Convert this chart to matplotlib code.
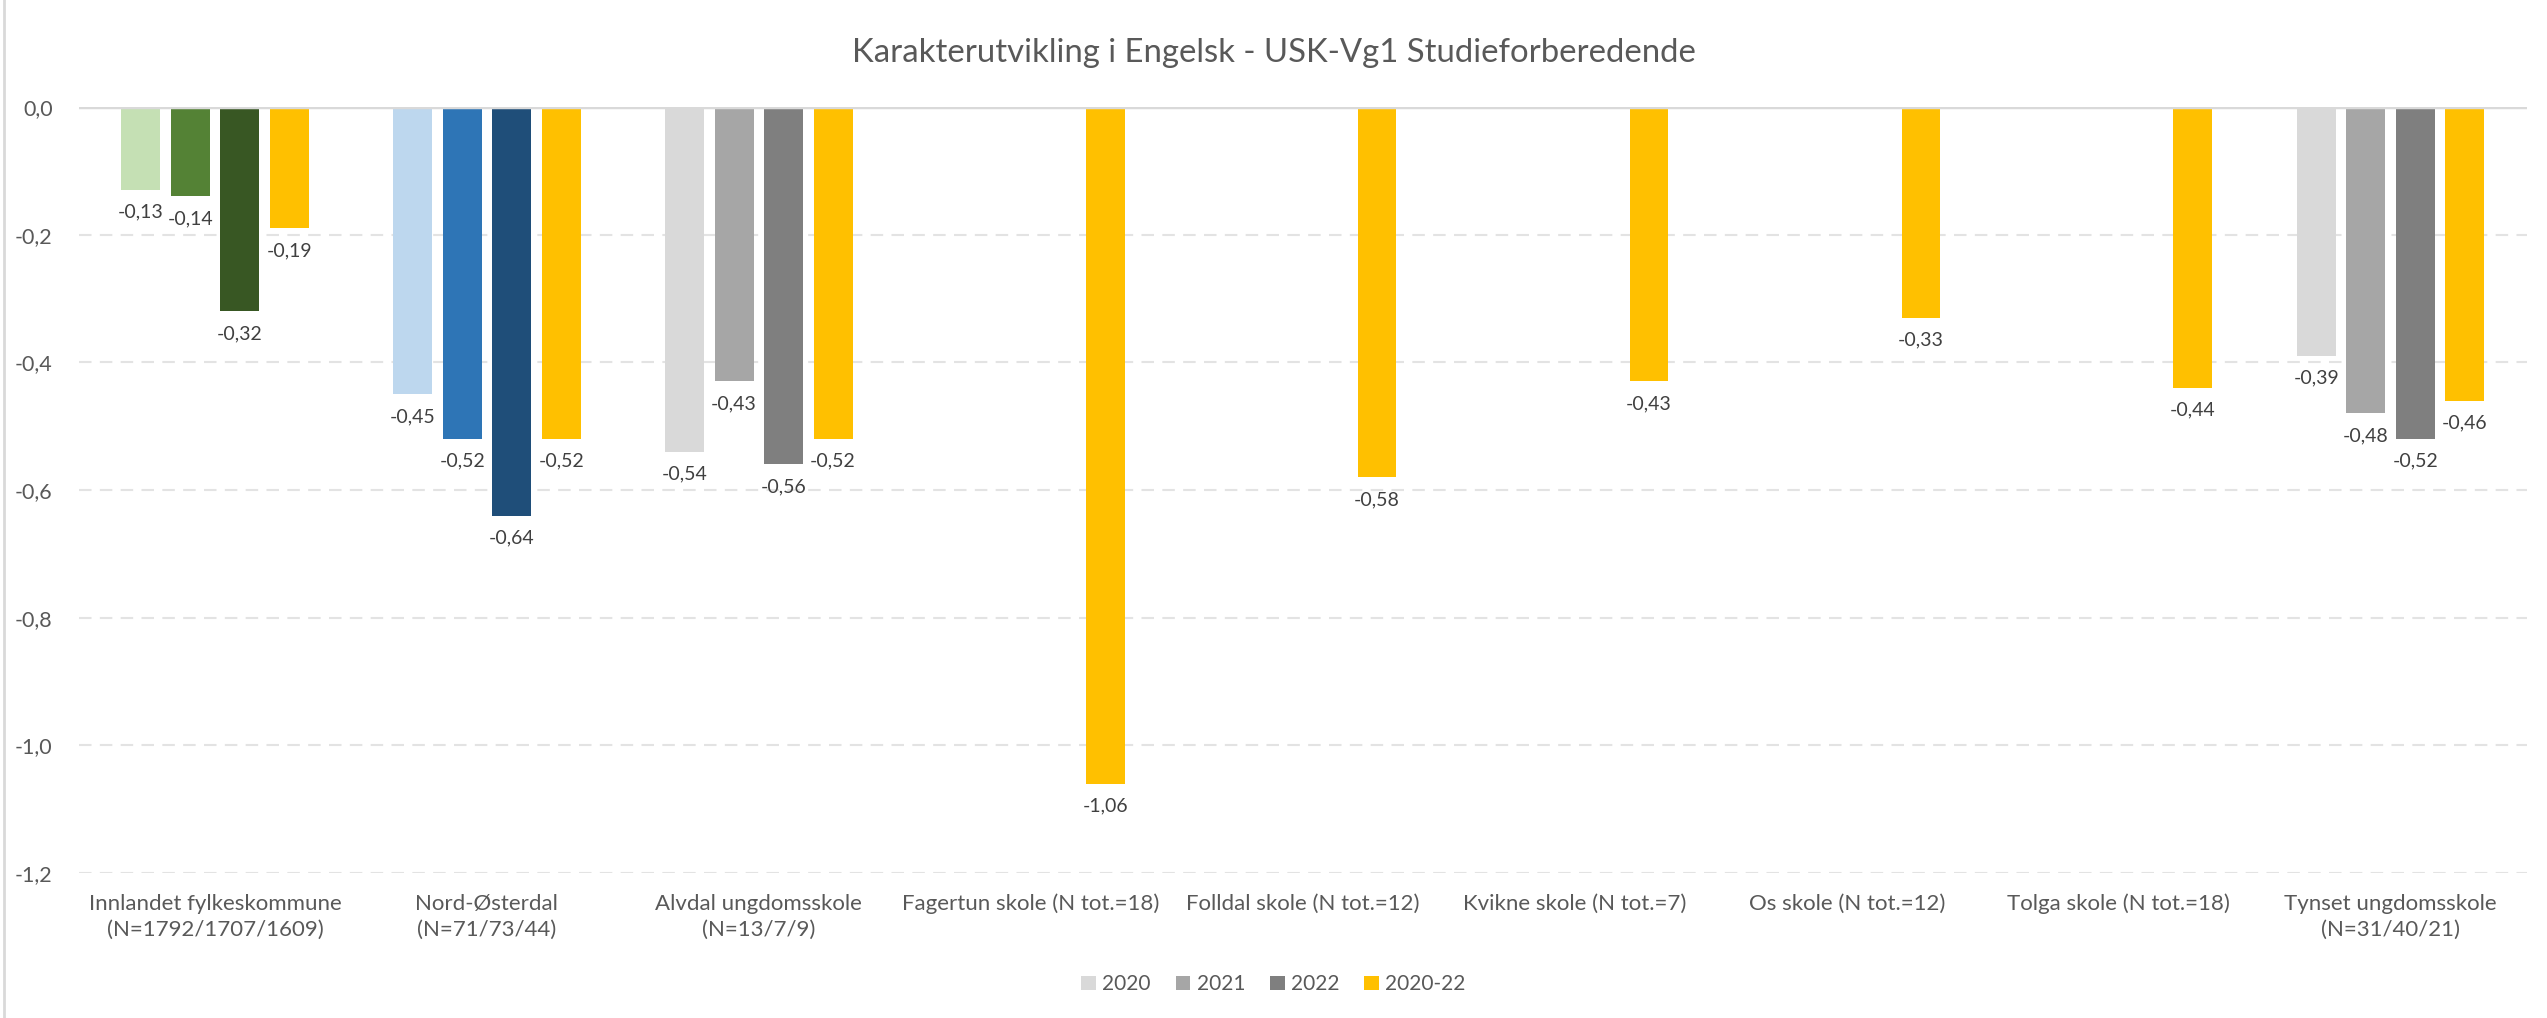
import numpy as np
import matplotlib
matplotlib.use('agg')
import matplotlib.pyplot as plt
from matplotlib.patches import Patch
from matplotlib.ticker import FuncFormatter

plt.rcParams['font.family'] = ['Lato', 'DejaVu Sans']

# data
categories = ['Innlandet fylkeskommune\n(N=1792/1707/1609)',
              'Nord-Østerdal\n(N=71/73/44)',
              'Alvdal ungdomsskole\n(N=13/7/9)',
              'Fagertun skole (N tot.=18)',
              'Folldal skole (N tot.=12)',
              'Kvikne skole (N tot.=7)',
              'Os skole (N tot.=12)',
              'Tolga skole (N tot.=18)',
              'Tynset ungdomsskole\n(N=31/40/21)']
series = ['2020', '2021', '2022', '2020-22']
nan = np.nan
v2020 = [-0.13, -0.45, -0.54, nan, nan, nan, nan, nan, -0.39]
v2021 = [-0.14, -0.52, -0.43, nan, nan, nan, nan, nan, -0.48]
v2022 = [-0.32, -0.64, -0.56, nan, nan, nan, nan, nan, -0.52]
v2020_22 = [-0.19, -0.52, -0.52, -1.06, -0.58, -0.43, -0.33, -0.44, -0.46]

grey = ['#d9d9d9', '#a6a6a6', '#7f7f7f', '#ffc000']
green = ['#c5e0b4', '#548235', '#385723', '#ffc000']
blue = ['#bdd7ee', '#2e75b6', '#1f4e79', '#ffc000']
group_colors = [green, blue] + [grey] * 7

txt = '#595959'
fig = plt.figure(figsize=(25.47, 10.18), dpi=100)
ax = fig.add_axes([0.031, 0.1424, 0.961, 0.7525])

x = np.arange(len(categories))
pitch = 0.182
width = 0.143
allvals = [v2020, v2021, v2022, v2020_22]
for i, vals in enumerate(allvals):
    xs = x + (i - 1.5) * pitch
    cols = [group_colors[g][i] for g in range(len(categories))]
    bars = ax.bar(xs, vals, width, color=cols, zorder=3)
    for b, v in zip(bars, vals):
        if np.isnan(v):
            continue
        ax.annotate(f'{v:.2f}'.replace('.', ','),
                    (b.get_x() + b.get_width() / 2, v),
                    xytext=(0, -10), textcoords='offset points',
                    ha='center', va='top', fontsize=14, color='#404040')

ax.set_xlim(-0.5, len(categories) - 0.5)
ax.set_ylim(-1.2, 0)
ax.set_yticks(np.arange(-1.2, 0.01, 0.2))
ax.yaxis.set_major_formatter(FuncFormatter(lambda v, p: f'{v:.1f}'.replace('.', ',').replace('-0,0', '0,0')))
ax.grid(axis='y', color='#e3e3e3', linestyle=(0, (6, 4)), linewidth=1.5, zorder=0)
ax.axhline(0, color='#d9d9d9', linewidth=2.5, zorder=4)
for s in ax.spines.values():
    s.set_visible(False)
ax.tick_params(axis='both', length=0, labelsize=15.5, colors=txt)
ax.tick_params(axis='y', pad=19)
ax.tick_params(axis='x', pad=15, labelsize=16)
ax.set_xticks(x)
ax.set_xticklabels(categories, linespacing=1.35)

fig.text(0.5, 0.948, 'Karakterutvikling i Engelsk - USK-Vg1 Studieforberedende',
         ha='center', va='center', fontsize=23.7, color=txt)

handles = [Patch(facecolor=c) for c in grey]
fig.legend(handles, series, loc='center', bbox_to_anchor=(0.5, 0.033), ncol=4,
           frameon=False, fontsize=15, labelcolor=txt, handlelength=0.7,
           handleheight=0.7, handletextpad=0.3, columnspacing=1.2)

fig.add_artist(plt.Line2D([0.0015, 0.0015], [0, 1], color='#d9d9d9', linewidth=2,
                          transform=fig.transFigure))

plt.savefig('out.png', dpi=100)
